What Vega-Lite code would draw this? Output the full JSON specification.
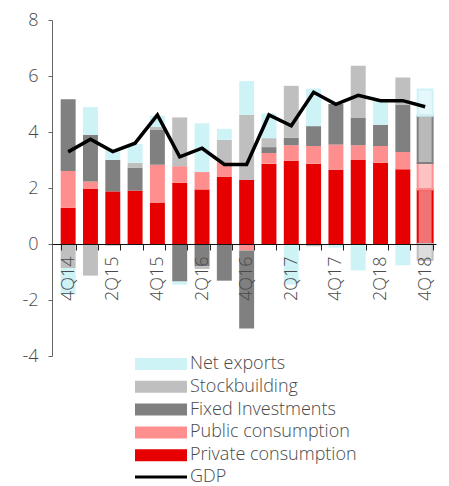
{
  "$schema": "https://vega.github.io/schema/vega-lite/v6.json",
  "width": 384,
  "height": 336,
  "autosize": "none",
  "padding": {"left": 52, "top": 20, "right": 13, "bottom": 130},
  "background": "white",
  "config": {
    "view": {"stroke": null},
    "font": "Open Sans",
    "legend": {"labelFont": "Open Sans", "labelFontSize": 18, "labelFontWeight": 300, "labelColor": "#4a4a4a", "title": null, "labelLimit": 400}
  },
  "datasets": {
    "bars": [
      {"q": "4Q14", "c": "Private consumption", "v": 1.29}, {"q": "4Q14", "c": "Public consumption", "v": 1.32}, {"q": "4Q14", "c": "Fixed Investments", "v": 2.56}, {"q": "4Q14", "c": "Stockbuilding", "v": -0.86}, {"q": "4Q14", "c": "Net exports", "v": -0.95},
      {"q": "1Q15", "c": "Private consumption", "v": 1.98}, {"q": "1Q15", "c": "Public consumption", "v": 0.25}, {"q": "1Q15", "c": "Fixed Investments", "v": 1.67}, {"q": "1Q15", "c": "Stockbuilding", "v": -1.13}, {"q": "1Q15", "c": "Net exports", "v": 0.99},
      {"q": "2Q15", "c": "Private consumption", "v": 1.88}, {"q": "2Q15", "c": "Public consumption", "v": 0.0}, {"q": "2Q15", "c": "Fixed Investments", "v": 1.12}, {"q": "2Q15", "c": "Stockbuilding", "v": -0.06}, {"q": "2Q15", "c": "Net exports", "v": 0.40},
      {"q": "3Q15", "c": "Private consumption", "v": 1.91}, {"q": "3Q15", "c": "Public consumption", "v": 0.0}, {"q": "3Q15", "c": "Fixed Investments", "v": 0.82}, {"q": "3Q15", "c": "Stockbuilding", "v": 0.17}, {"q": "3Q15", "c": "Net exports", "v": 0.67},
      {"q": "4Q15", "c": "Private consumption", "v": 1.48}, {"q": "4Q15", "c": "Public consumption", "v": 1.35}, {"q": "4Q15", "c": "Fixed Investments", "v": 1.26}, {"q": "4Q15", "c": "Stockbuilding", "v": 0.09}, {"q": "4Q15", "c": "Net exports", "v": 0.40},
      {"q": "1Q16", "c": "Private consumption", "v": 2.19}, {"q": "1Q16", "c": "Public consumption", "v": 0.59}, {"q": "1Q16", "c": "Fixed Investments", "v": -1.34}, {"q": "1Q16", "c": "Stockbuilding", "v": 1.74}, {"q": "1Q16", "c": "Net exports", "v": -0.11},
      {"q": "2Q16", "c": "Private consumption", "v": 1.95}, {"q": "2Q16", "c": "Public consumption", "v": 0.62}, {"q": "2Q16", "c": "Fixed Investments", "v": -0.80}, {"q": "2Q16", "c": "Stockbuilding", "v": -0.09}, {"q": "2Q16", "c": "Net exports", "v": 1.74},
      {"q": "3Q16", "c": "Private consumption", "v": 2.40}, {"q": "3Q16", "c": "Public consumption", "v": 0.52}, {"q": "3Q16", "c": "Fixed Investments", "v": -1.31}, {"q": "3Q16", "c": "Stockbuilding", "v": 0.80}, {"q": "3Q16", "c": "Net exports", "v": 0.39},
      {"q": "4Q16", "c": "Private consumption", "v": 2.29}, {"q": "4Q16", "c": "Public consumption", "v": -0.23}, {"q": "4Q16", "c": "Fixed Investments", "v": -2.79}, {"q": "4Q16", "c": "Stockbuilding", "v": 2.32}, {"q": "4Q16", "c": "Net exports", "v": 1.21},
      {"q": "1Q17", "c": "Private consumption", "v": 2.87}, {"q": "1Q17", "c": "Public consumption", "v": 0.38}, {"q": "1Q17", "c": "Fixed Investments", "v": 0.21}, {"q": "1Q17", "c": "Stockbuilding", "v": 0.32}, {"q": "1Q17", "c": "Net exports", "v": 0.88},
      {"q": "2Q17", "c": "Private consumption", "v": 2.97}, {"q": "2Q17", "c": "Public consumption", "v": 0.56}, {"q": "2Q17", "c": "Fixed Investments", "v": 0.26}, {"q": "2Q17", "c": "Stockbuilding", "v": 1.86}, {"q": "2Q17", "c": "Net exports", "v": -1.45},
      {"q": "3Q17", "c": "Private consumption", "v": 2.87}, {"q": "3Q17", "c": "Public consumption", "v": 0.63}, {"q": "3Q17", "c": "Fixed Investments", "v": 0.71}, {"q": "3Q17", "c": "Stockbuilding", "v": -0.08}, {"q": "3Q17", "c": "Net exports", "v": 1.34},
      {"q": "4Q17", "c": "Private consumption", "v": 2.65}, {"q": "4Q17", "c": "Public consumption", "v": 0.90}, {"q": "4Q17", "c": "Fixed Investments", "v": 1.45}, {"q": "4Q17", "c": "Stockbuilding", "v": 0.0}, {"q": "4Q17", "c": "Net exports", "v": -0.13},
      {"q": "1Q18", "c": "Private consumption", "v": 3.00}, {"q": "1Q18", "c": "Public consumption", "v": 0.53}, {"q": "1Q18", "c": "Fixed Investments", "v": 0.97}, {"q": "1Q18", "c": "Stockbuilding", "v": 1.87}, {"q": "1Q18", "c": "Net exports", "v": -0.95},
      {"q": "2Q18", "c": "Private consumption", "v": 2.90}, {"q": "2Q18", "c": "Public consumption", "v": 0.60}, {"q": "2Q18", "c": "Fixed Investments", "v": 0.76}, {"q": "2Q18", "c": "Stockbuilding", "v": 0.0}, {"q": "2Q18", "c": "Net exports", "v": 0.87},
      {"q": "3Q18", "c": "Private consumption", "v": 2.67}, {"q": "3Q18", "c": "Public consumption", "v": 0.62}, {"q": "3Q18", "c": "Fixed Investments", "v": 1.69}, {"q": "3Q18", "c": "Stockbuilding", "v": 0.97}, {"q": "3Q18", "c": "Net exports", "v": -0.76},
      {"q": "4Q18", "c": "Private consumption", "v": 1.95}, {"q": "4Q18", "c": "Public consumption", "v": 0.94}, {"q": "4Q18", "c": "Fixed Investments", "v": 1.69}, {"q": "4Q18", "c": "Stockbuilding", "v": -0.56}, {"q": "4Q18", "c": "Net exports", "v": 0.94}
    ],
    "gdp": [
      {"q": "4Q14", "s": "GDP", "g": 3.29}, {"q": "1Q15", "s": "GDP", "g": 3.74}, {"q": "2Q15", "s": "GDP", "g": 3.30}, {"q": "3Q15", "s": "GDP", "g": 3.60},
      {"q": "4Q15", "s": "GDP", "g": 4.61}, {"q": "1Q16", "s": "GDP", "g": 3.11}, {"q": "2Q16", "s": "GDP", "g": 3.42}, {"q": "3Q16", "s": "GDP", "g": 2.84},
      {"q": "4Q16", "s": "GDP", "g": 2.84}, {"q": "1Q17", "s": "GDP", "g": 4.61}, {"q": "2Q17", "s": "GDP", "g": 4.22}, {"q": "3Q17", "s": "GDP", "g": 5.42},
      {"q": "4Q17", "s": "GDP", "g": 4.99}, {"q": "1Q18", "s": "GDP", "g": 5.31}, {"q": "2Q18", "s": "GDP", "g": 5.12}, {"q": "3Q18", "s": "GDP", "g": 5.12},
      {"q": "4Q18", "s": "GDP", "g": 4.90}
    ]
  },
  "encoding": {
    "x": {
      "field": "q", "type": "nominal", "sort": null,
      "scale": {"paddingInner": 0.33, "paddingOuter": 0.27, "align": 0.72},
      "axis": {
        "title": null, "orient": "bottom", "offset": -112, "zindex": 1,
        "labelAngle": -90, "labelAlign": "right", "labelBaseline": "middle",
        "labelFont": "Open Sans", "labelFontSize": 18, "labelFontWeight": 300, "labelColor": "#4a4a4a", "labelPadding": 6,
        "labelExpr": "(substring(datum.value,0,1)=='2'||substring(datum.value,0,1)=='4') ? datum.value : ''",
        "tickBand": "extent", "tickSize": 6, "tickColor": "#222", "domainColor": "#111", "domainWidth": 1.2, "labelOverlap": false
      }
    }
  },
  "layer": [
    {
      "data": {"name": "bars"},
      "transform": [
        {"calculate": "indexof(['Private consumption','Public consumption','Fixed Investments','Stockbuilding','Net exports'], datum.c)", "as": "ord"}
      ],
      "mark": {"type": "bar"},
      "encoding": {
        "y": {
          "field": "v", "type": "quantitative", "stack": "zero",
          "scale": {"domain": [-4, 8], "nice": false, "zero": false},
          "axis": {
            "title": null, "values": [-4, -2, 0, 2, 4, 6, 8], "grid": false,
            "labelFont": "Open Sans", "labelFontSize": 18, "labelFontWeight": 300, "labelColor": "#4a4a4a", "labelPadding": 10,
            "labelExpr": "replace(datum.label, '\u2212', '-')",
            "tickSize": 4, "tickColor": "#666", "domainColor": "#666"
          }
        },
        "order": {"field": "ord", "type": "quantitative"},
        "fill": {
          "field": "c", "type": "nominal",
          "scale": {
            "domain": ["Net exports", "Stockbuilding", "Fixed Investments", "Public consumption", "Private consumption"],
            "range": ["#cdf3f7", "#bfbfbf", "#808080", "#ff8f8f", "#e60000"]
          },
          "legend": {
            "orient": "none", "legendX": 80, "legendY": 335, "direction": "vertical",
            "symbolType": "M-1,-1H7.667V1H-1Z", "symbolSize": 144, "symbolStrokeWidth": 0,
            "labelOffset": 40, "rowPadding": 4.8
          }
        },
        "stroke": {
          "field": "c", "type": "nominal",
          "scale": {
            "domain": ["Net exports", "Stockbuilding", "Fixed Investments", "Public consumption", "Private consumption"],
            "range": ["#cdf3f7", "#bfbfbf", "#808080", "#ff8f8f", "#e60000"]
          },
          "legend": null
        },
        "strokeWidth": {"condition": {"test": "datum.q=='4Q18'", "value": 2}, "value": 0},
        "fillOpacity": {"condition": {"test": "datum.q=='4Q18'", "value": 0.55}, "value": 1}
      }
    },
    {
      "data": {"name": "gdp"},
      "mark": {"type": "line", "strokeWidth": 3.5, "strokeJoin": "miter"},
      "encoding": {
        "y": {"field": "g", "type": "quantitative"},
        "stroke": {
          "field": "s", "type": "nominal",
          "scale": {"domain": ["GDP"], "range": ["#000000"]},
          "legend": {
            "orient": "none", "legendX": 80, "legendY": 448,
            "symbolType": "M-1,0H7.667", "symbolSize": 144, "symbolStrokeWidth": 3,
            "labelOffset": 40
          }
        }
      }
    }
  ],
  "resolve": {"scale": {"stroke": "independent"}}
}
